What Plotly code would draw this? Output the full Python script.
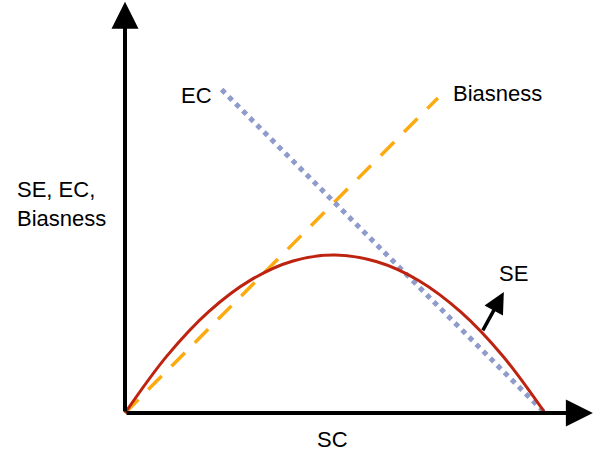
import plotly.graph_objects as go

# Data (conceptual units)
sc_se = [0, 1, 2, 3, 4, 5, 6, 7, 8, 9, 10]
se_vals = [0, 1.36, 2.42, 3.17, 3.62, 3.76, 3.6, 3.15, 2.4, 1.35, 0]
sc_ec = [2.3, 10]
ec_vals = [7.7, 0]
sc_bias = [0, 7.45]
bias_vals = [0, 7.5]

FONT = "Liberation Sans, Arial, Helvetica, sans-serif"

fig = go.Figure()
fig.add_trace(go.Scatter(x=sc_bias, y=bias_vals, mode="lines",
                         line=dict(color="#FBAA0F", width=3.5, dash="19px,14px")))
fig.add_trace(go.Scatter(x=sc_ec, y=ec_vals, mode="lines",
                         line=dict(color="#8E9BCB", width=5, dash="dot")))
fig.add_trace(go.Scatter(x=sc_se, y=se_vals, mode="lines", line_shape="spline",
                         line=dict(color="#BE2310", width=3)))

# axes with arrows
fig.add_annotation(x=0, y=9.79, ax=0, ay=0, xref="x", yref="y", axref="x", ayref="y",
                   text="", showarrow=True, arrowhead=2, arrowwidth=4, arrowsize=1.35,
                   arrowcolor="black")
fig.add_annotation(x=11.14, y=0, ax=0, ay=0, xref="x", yref="y", axref="x", ayref="y",
                   text="", showarrow=True, arrowhead=2, arrowwidth=4, arrowsize=1.35,
                   arrowcolor="black")
# SE pointer arrow
fig.add_annotation(x=9.02, y=2.88, ax=8.5, ay=1.93, xref="x", yref="y", axref="x", ayref="y",
                   text="", showarrow=True, arrowhead=2, arrowwidth=3.5, arrowsize=1.2,
                   arrowcolor="black")

labels = [("EC", 1.71, 7.57), ("Biasness", 8.88, 7.6), ("SE", 9.24, 3.33), ("SC", 4.95, -0.64)]
for t, x, y in labels:
    fig.add_annotation(x=x, y=y, text=t, showarrow=False, xref="x", yref="y",
                       font=dict(family=FONT, size=22, color="black"))
fig.add_annotation(x=-2.63, y=4.98, text="SE, EC,<br>Biasness", showarrow=False,
                   xref="x", yref="y", xanchor="left", align="left",
                   font=dict(family=FONT, size=22, color="black"))

fig.update_layout(width=601, height=457,
                  margin=dict(l=0, r=0, t=0, b=0, pad=0, autoexpand=False),
                  paper_bgcolor="white", plot_bgcolor="white", showlegend=False,
                  xaxis=dict(range=[-125/42, 476/42], visible=False),
                  yaxis=dict(range=[-44/42, 413/42], visible=False))
fig.write_html("out.html", config={"displayModeBar": False},
               post_script="document.body.style.margin='0';document.body.style.overflow='hidden';")
